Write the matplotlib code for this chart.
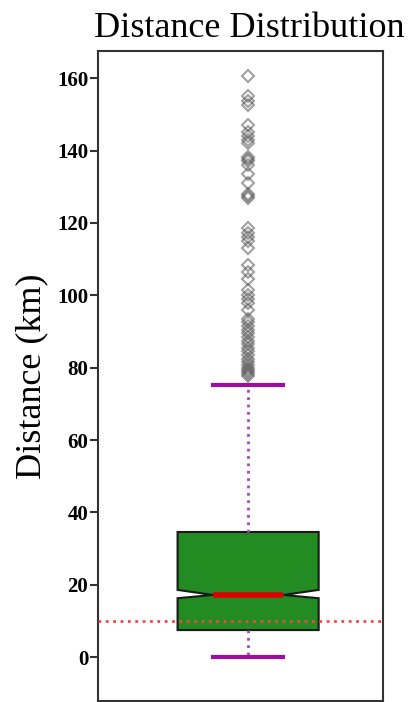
import matplotlib
matplotlib.use("Agg")
import matplotlib.pyplot as plt

# ---- data ----
q1 = 7.5
median = 17.2
q3 = 34.6
whisker_low = 0.0
whisker_high = 75.3
notch_low = 16.3
notch_high = 18.6
reference_line = 10.0
fliers = [160.5, 155.0, 153.8, 152.6, 147.0, 145.2, 144.0, 143.0, 142.0,
          138.2, 137.6, 137.0, 136.0, 133.5, 131.0, 128.0, 127.5, 127.0,
          118.5, 117.3, 116.2, 115.0, 113.0, 108.5, 106.5, 104.5, 101.5,
          100.0, 99.0, 98.0, 96.0, 93.5, 92.5, 91.5, 90.5, 89.5, 88.5,
          87.5, 86.5, 85.5, 84.5, 83.5, 82.5, 81.5, 80.8, 80.0, 79.4,
          78.8, 78.2, 77.6]
title = "Distance Distribution"
ylabel = "Distance (km)"
yticks = [0, 20, 40, 60, 80, 100, 120, 140, 160]

plt.rcParams['font.family'] = ['Liberation Serif', 'DejaVu Serif']

fig = plt.figure(figsize=(4.09, 7.02), dpi=100)
ax = fig.add_axes([98/409, 1/702, 285/409, 650/702])

stats = [dict(med=median, q1=q1, q3=q3, whislo=whisker_low, whishi=whisker_high,
              cilo=notch_low, cihi=notch_high, fliers=fliers, label='')]

ax.bxp(stats, positions=[1], widths=0.5, shownotches=True, patch_artist=True,
       boxprops=dict(facecolor='#228B22', edgecolor='#1a1a1a', linewidth=1.5),
       medianprops=dict(color='#e00000', linewidth=4, solid_capstyle='butt'),
       whiskerprops=dict(color='#a848c0', linestyle=':', linewidth=2),
       capprops=dict(color='#9a109a', linewidth=3),
       flierprops=dict(marker='D', markersize=6.5, markerfacecolor='none',
                       markeredgecolor='#555555', markeredgewidth=1.5,
                       alpha=0.55, linestyle='none'),
       zorder=2)

ax.axhline(reference_line, color='#f04848', linestyle=':', linewidth=2, zorder=3)

ax.set_xlim(0.468, 1.478)
ax.set_ylim(-12.1, 167.5)
ax.set_xticks([])
ax.set_yticks(yticks)
ax.set_yticklabels([str(t) for t in yticks], fontsize=15, fontweight='bold')
ax.tick_params(axis='y', direction='out', length=6, width=1.5, color='#333333', pad=1)
for s in ax.spines.values():
    s.set_linewidth(1.5)
    s.set_color('#333333')

ax.set_title(title, fontsize=26, pad=10, x=0.53)
ax.set_ylabel(ylabel, fontsize=26, labelpad=6)

fig.savefig("out.png", dpi=100)
